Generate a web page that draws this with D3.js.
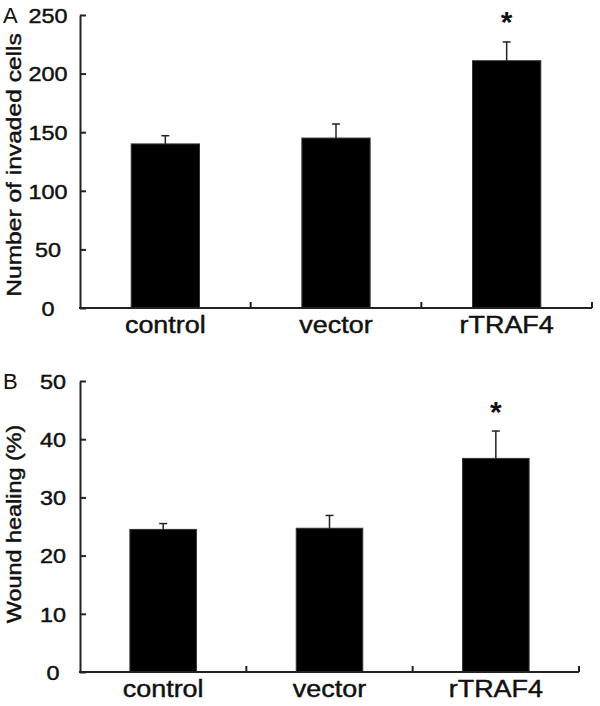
<!DOCTYPE html>
<html>
<head>
<meta charset="utf-8">
<script src="https://cdn.jsdelivr.net/npm/d3@7"></script>
<style>
  html, body { margin: 0; padding: 0; background: #fff; }
  svg { display: block; }
  text { font-family: "Liberation Sans", Arial, sans-serif; fill: #111; }
  text.heavy { stroke: #111; stroke-width: 0.45px; }
</style>
</head>
<body>
<svg id="chart" width="600" height="706"></svg>
<script>
// ---- data ----
const categories = ["control", "vector", "rTRAF4"];
const invadedCells = [140, 145, 211];
const invadedErr = [7, 12, 16];
const woundHealing = [24.5, 24.7, 36.7];
const woundErr = [1.0, 2.2, 4.7];
const ticksA = [0, 50, 100, 150, 200, 250];
const ticksB = [0, 10, 20, 30, 40, 50];
const significant = [false, false, true];

const svg = d3.select("#chart");
const STRETCH = 1.17;

function stretch(sel) {
  sel.each(function () {
    const w = this.getComputedTextLength();
    d3.select(this).attr("textLength", w * STRETCH).attr("lengthAdjust", "spacingAndGlyphs");
  });
}

function panel(cfg) {
  const g = svg.append("g");
  const x = d3.scaleBand().domain(categories).range([cfg.left, cfg.right]).padding(0);
  const y = d3.scaleLinear().domain([0, cfg.max]).range([cfg.bottom, cfg.top]);
  const bw = x.bandwidth();

  // bars
  g.selectAll("rect.bar").data(categories).join("rect")
    .attr("class", "bar")
    .attr("x", c => x(c) + bw * 0.3)
    .attr("width", bw * 0.4)
    .attr("y", (c, i) => y(cfg.values[i]))
    .attr("height", (c, i) => y(0) - y(cfg.values[i]))
    .attr("fill", "#000")
    .attr("stroke", "#333").attr("stroke-width", 1);

  // error bars (upper only)
  const eg = g.selectAll("g.err").data(categories).join("g").attr("class", "err");
  eg.append("line")
    .attr("x1", c => x(c) + bw / 2).attr("x2", c => x(c) + bw / 2)
    .attr("y1", (c, i) => y(cfg.values[i]))
    .attr("y2", (c, i) => y(cfg.values[i] + cfg.errors[i]))
    .attr("stroke", "#222").attr("stroke-width", 1.5);
  eg.append("line")
    .attr("x1", c => x(c) + bw / 2 - 4).attr("x2", c => x(c) + bw / 2 + 4)
    .attr("y1", (c, i) => y(cfg.values[i] + cfg.errors[i]))
    .attr("y2", (c, i) => y(cfg.values[i] + cfg.errors[i]))
    .attr("stroke", "#222").attr("stroke-width", 1.5);

  // asterisks
  g.selectAll("text.star").data(categories.filter((c, i) => significant[i])).join("text")
    .attr("class", "star")
    .attr("x", c => x(c) + bw / 2)
    .attr("y", cfg.starY)
    .attr("text-anchor", "middle")
    .attr("font-size", 30).attr("font-weight", "bold")
    .text("*");

  // y axis
  const ya = g.append("g").attr("transform", `translate(${cfg.left},0)`)
    .call(d3.axisLeft(y).tickValues(cfg.ticks).tickSize(-6).tickSizeOuter(0).tickFormat(d3.format("d")));
  ya.attr("font-family", null).attr("font-size", null);
  ya.select(".domain").attr("stroke", "#222").attr("stroke-width", 2);
  ya.selectAll(".tick line").attr("stroke", "#222").attr("stroke-width", 2);
  ya.selectAll(".tick text")
    .attr("class", "heavy")
    .attr("x", cfg.tickLabelX - cfg.left)
    .attr("dy", "0.36em")
    .attr("text-anchor", "middle")
    .attr("fill", "#111")
    .attr("font-size", 20)
    .call(stretch);

  // x axis
  g.append("line")
    .attr("x1", cfg.left - 1).attr("x2", cfg.right)
    .attr("y1", y(0)).attr("y2", y(0))
    .attr("stroke", "#222").attr("stroke-width", 2);
  g.selectAll("line.xtick").data(categories).join("line")
    .attr("class", "xtick")
    .attr("x1", c => x(c) + bw).attr("x2", c => x(c) + bw)
    .attr("y1", y(0)).attr("y2", y(0) - 6)
    .attr("stroke", "#222").attr("stroke-width", 2);
  g.selectAll("text.xlab").data(categories).join("text")
    .attr("class", "xlab heavy")
    .attr("x", c => x(c) + bw / 2)
    .attr("y", y(0) + 25)
    .attr("text-anchor", "middle")
    .attr("font-size", 23)
    .text(c => c)
    .call(stretch);

  // y title
  g.append("text")
    .attr("class", "heavy")
    .attr("transform", `translate(${cfg.titleX},${cfg.titleY}) rotate(-90)`)
    .attr("text-anchor", "middle")
    .attr("font-size", cfg.titleSize)
    .text(cfg.title)
    .call(stretch);

  // panel letter
  g.append("text")
    .attr("x", 3).attr("y", cfg.letterY)
    .attr("font-size", 22)
    .text(cfg.letter);
}

panel({
  values: invadedCells, errors: invadedErr, ticks: ticksA, max: 250,
  left: 80, right: 592, top: 15, bottom: 308,
  tickLabelX: 48, starY: 32,
  title: "Number of invaded cells", titleX: 21, titleY: 165, titleSize: 21,
  letter: "A", letterY: 23
});

panel({
  values: woundHealing, errors: woundErr, ticks: ticksB, max: 50,
  left: 80, right: 579, top: 381, bottom: 672,
  tickLabelX: 53, starY: 422,
  title: "Wound healing (%)", titleX: 21, titleY: 524, titleSize: 20,
  letter: "B", letterY: 389
});
</script>
</body>
</html>
